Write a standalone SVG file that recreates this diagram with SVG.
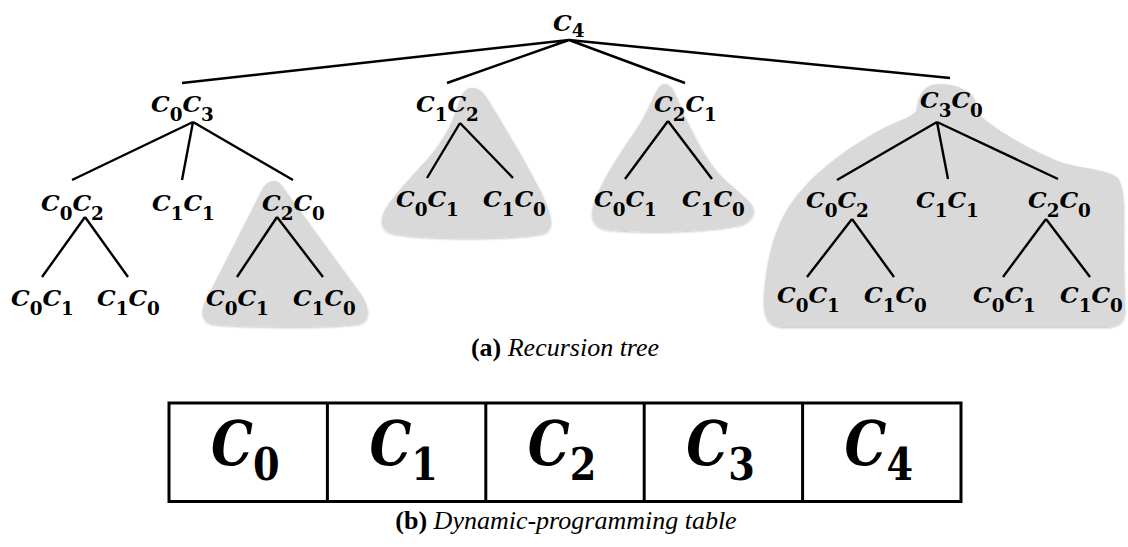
<svg xmlns="http://www.w3.org/2000/svg" width="1128" height="547" viewBox="0 0 1128 547">
  <style>
    .lbl { font-family: "DejaVu Serif", serif; font-weight: bold; font-style: italic; font-size: 23px; fill: #000; }
    .sub { font-style: normal; font-size: 18px; }
    .big { font-family: "DejaVu Serif", serif; font-weight: bold; font-style: italic; font-size: 62px; fill: #000; }
    .bigsub { font-style: normal; font-size: 45px; }
    .cap { font-family: "Liberation Serif", serif; font-size: 26px; fill: #000; }
    .cap .b { font-weight: bold; }
    .cap .i { font-style: italic; }
    .edge { stroke: #000; stroke-width: 2.4; fill: none; }
    .blob { fill: #d9d9d9; filter: url(#soft); }
    .grid { stroke: #000; stroke-width: 3; fill: #fff; }
  </style>
  <defs>
    <filter id="soft" x="-5%" y="-5%" width="110%" height="115%">
      <feDropShadow dx="0" dy="1" stdDeviation="1.2" flood-color="#000" flood-opacity="0.25"/>
    </filter>
  </defs>

  <rect width="1128" height="547" fill="#fff"/>

  <!-- shaded sub-trees (repeated sub-problems) -->
  <g id="shading">
    <path class="blob" d="M273,181 C278,180 281,184 285,190 L360,293 C370,307 370,319 362,323 C340,328 250,328 213,324 C202,322 200,312 206,300 L262,190 C265,184 269,181 273,181 Z"/>
    <path class="blob" d="M470,88 C480,86 486,96 492,106 C505,128 525,160 540,190 C550,210 556,228 545,233 C515,240 420,240 392,233 C378,229 380,215 390,202 C402,186 418,170 430,156 C442,142 452,125 458,105 C461,94 465,89 470,88 Z"/>
    <path class="blob" d="M664,84 C670,83 674,90 678,100 C686,120 698,145 712,165 C725,183 745,195 752,205 C757,215 750,222 740,225 C705,232 640,234 605,229 C590,226 590,212 596,198 C605,175 622,150 636,130 C646,115 652,100 656,92 C659,87 661,84 664,84 Z"/>
    <path class="blob" d="M917,110 C918,97 922,88 932,85 C945,82 962,86 972,95 C978,103 975,112 985,120 C1005,135 1030,150 1060,162 C1085,170 1105,168 1118,178 C1126,190 1124,220 1124,260 L1125,312 C1125,322 1118,327 1105,327 L785,327 C768,327 764,318 764,300 C765,270 772,235 787,210 C805,180 840,152 880,130 C898,120 912,118 917,110 Z"/>
  </g>

  <!-- tree edges -->
  <g id="edges" class="edge">
    <path class="edge" d="M569,40 L182,83 M569,40 L447,83 M569,40 L685,83 M569,40 L950,78"/>
    <path class="edge" d="M193,122 L72,180 M193,122 L182,180 M193,122 L293,180"/>
    <path class="edge" d="M85,217 L42,277 M85,217 L128,277"/>
    <path class="edge" d="M277,217 L237,277 M277,217 L323,277"/>
    <path class="edge" d="M460,123 L427,178 M460,123 L513,178"/>
    <path class="edge" d="M668,121 L625,179 M668,121 L712,179"/>
    <path class="edge" d="M937,122 L837,180 M937,122 L948,179 M937,122 L1058,179"/>
    <path class="edge" d="M852,219 L807,277 M852,219 L894,277"/>
    <path class="edge" d="M1046,219 L1003,277 M1046,219 L1090,277"/>
  </g>

  <!-- tree nodes -->
  <g id="n-c4" transform="translate(553,31) scale(1.02,1)"><text class="lbl">C<tspan class="sub" dy="6">4</tspan></text></g>

  <g id="n-c0c3" transform="translate(151,112) scale(1.02,1)"><text class="lbl">C<tspan class="sub" dy="9">0</tspan><tspan dy="-9">C</tspan><tspan class="sub" dy="9">3</tspan></text></g>
  <g id="n-c1c2" transform="translate(416,112) scale(1.02,1)"><text class="lbl">C<tspan class="sub" dy="9">1</tspan><tspan dy="-9">C</tspan><tspan class="sub" dy="9">2</tspan></text></g>
  <g id="n-c2c1" transform="translate(654,112) scale(1.02,1)"><text class="lbl">C<tspan class="sub" dy="9">2</tspan><tspan dy="-9">C</tspan><tspan class="sub" dy="9">1</tspan></text></g>
  <g id="n-c3c0" transform="translate(920,108) scale(1.02,1)"><text class="lbl">C<tspan class="sub" dy="9">3</tspan><tspan dy="-9">C</tspan><tspan class="sub" dy="9">0</tspan></text></g>

  <g id="n-a-c0c2" transform="translate(41,211) scale(1.02,1)"><text class="lbl">C<tspan class="sub" dy="9">0</tspan><tspan dy="-9">C</tspan><tspan class="sub" dy="9">2</tspan></text></g>
  <g id="n-a-c1c1" transform="translate(152,211) scale(1.02,1)"><text class="lbl">C<tspan class="sub" dy="9">1</tspan><tspan dy="-9">C</tspan><tspan class="sub" dy="9">1</tspan></text></g>
  <g id="n-a-c2c0" transform="translate(262,211) scale(1.02,1)"><text class="lbl">C<tspan class="sub" dy="9">2</tspan><tspan dy="-9">C</tspan><tspan class="sub" dy="9">0</tspan></text></g>

  <g id="n-b-c0c1" transform="translate(396,207) scale(1.02,1)"><text class="lbl">C<tspan class="sub" dy="9">0</tspan><tspan dy="-9">C</tspan><tspan class="sub" dy="9">1</tspan></text></g>
  <g id="n-b-c1c0" transform="translate(483,207) scale(1.02,1)"><text class="lbl">C<tspan class="sub" dy="9">1</tspan><tspan dy="-9">C</tspan><tspan class="sub" dy="9">0</tspan></text></g>
  <g id="n-c-c0c1" transform="translate(594,207) scale(1.02,1)"><text class="lbl">C<tspan class="sub" dy="9">0</tspan><tspan dy="-9">C</tspan><tspan class="sub" dy="9">1</tspan></text></g>
  <g id="n-c-c1c0" transform="translate(682,207) scale(1.02,1)"><text class="lbl">C<tspan class="sub" dy="9">1</tspan><tspan dy="-9">C</tspan><tspan class="sub" dy="9">0</tspan></text></g>

  <g id="n-d-c0c2" transform="translate(806,208) scale(1.02,1)"><text class="lbl">C<tspan class="sub" dy="9">0</tspan><tspan dy="-9">C</tspan><tspan class="sub" dy="9">2</tspan></text></g>
  <g id="n-d-c1c1" transform="translate(916,208) scale(1.02,1)"><text class="lbl">C<tspan class="sub" dy="9">1</tspan><tspan dy="-9">C</tspan><tspan class="sub" dy="9">1</tspan></text></g>
  <g id="n-d-c2c0" transform="translate(1028,208) scale(1.02,1)"><text class="lbl">C<tspan class="sub" dy="9">2</tspan><tspan dy="-9">C</tspan><tspan class="sub" dy="9">0</tspan></text></g>

  <g id="n-a1-c0c1" transform="translate(11,306) scale(1.02,1)"><text class="lbl">C<tspan class="sub" dy="9">0</tspan><tspan dy="-9">C</tspan><tspan class="sub" dy="9">1</tspan></text></g>
  <g id="n-a1-c1c0" transform="translate(97,306) scale(1.02,1)"><text class="lbl">C<tspan class="sub" dy="9">1</tspan><tspan dy="-9">C</tspan><tspan class="sub" dy="9">0</tspan></text></g>
  <g id="n-a2-c0c1" transform="translate(206,306) scale(1.02,1)"><text class="lbl">C<tspan class="sub" dy="9">0</tspan><tspan dy="-9">C</tspan><tspan class="sub" dy="9">1</tspan></text></g>
  <g id="n-a2-c1c0" transform="translate(293,306) scale(1.02,1)"><text class="lbl">C<tspan class="sub" dy="9">1</tspan><tspan dy="-9">C</tspan><tspan class="sub" dy="9">0</tspan></text></g>

  <g id="n-d1-c0c1" transform="translate(777,303) scale(1.02,1)"><text class="lbl">C<tspan class="sub" dy="9">0</tspan><tspan dy="-9">C</tspan><tspan class="sub" dy="9">1</tspan></text></g>
  <g id="n-d1-c1c0" transform="translate(864,303) scale(1.02,1)"><text class="lbl">C<tspan class="sub" dy="9">1</tspan><tspan dy="-9">C</tspan><tspan class="sub" dy="9">0</tspan></text></g>
  <g id="n-d2-c0c1" transform="translate(973,303) scale(1.02,1)"><text class="lbl">C<tspan class="sub" dy="9">0</tspan><tspan dy="-9">C</tspan><tspan class="sub" dy="9">1</tspan></text></g>
  <g id="n-d2-c1c0" transform="translate(1060,303) scale(1.02,1)"><text class="lbl">C<tspan class="sub" dy="9">1</tspan><tspan dy="-9">C</tspan><tspan class="sub" dy="9">0</tspan></text></g>

  <!-- caption (a) -->
  <text class="cap" x="565" y="356" text-anchor="middle"><tspan class="b">(a)</tspan> <tspan class="i">Recursion tree</tspan></text>

  <!-- dynamic-programming table -->
  <g id="table">
    <rect class="grid" x="169" y="403" width="792" height="98.5"/>
    <path class="grid" d="M327.4,403 V501.5 M485.8,403 V501.5 M644.2,403 V501.5 M802.6,403 V501.5"/>
    <g id="cell-0" transform="translate(211,465) scale(0.85,1)"><text class="big">C<tspan class="bigsub" dy="15">0</tspan></text></g>
    <g id="cell-1" transform="translate(369.4,465) scale(0.85,1)"><text class="big">C<tspan class="bigsub" dy="15">1</tspan></text></g>
    <g id="cell-2" transform="translate(527.8,465) scale(0.85,1)"><text class="big">C<tspan class="bigsub" dy="15">2</tspan></text></g>
    <g id="cell-3" transform="translate(686.2,465) scale(0.85,1)"><text class="big">C<tspan class="bigsub" dy="15">3</tspan></text></g>
    <g id="cell-4" transform="translate(844.6,465) scale(0.85,1)"><text class="big">C<tspan class="bigsub" dy="15">4</tspan></text></g>
  </g>

  <!-- caption (b) -->
  <text class="cap" x="566" y="529" text-anchor="middle"><tspan class="b">(b)</tspan> <tspan class="i">Dynamic-programming table</tspan></text>
</svg>
